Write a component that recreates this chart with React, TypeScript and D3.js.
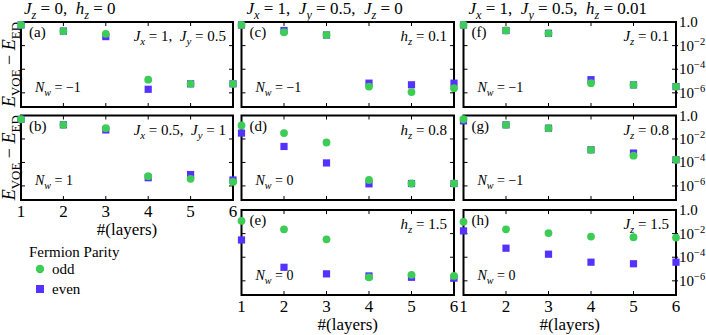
import React from "react";
import { scaleLinear, scaleLog } from "d3";

// layers on the x axis
const layers = [1, 2, 3, 4, 5, 6];
const xTicks = [1, 2, 3, 4, 5, 6];
const yTicks = [1e-2, 1e-4, 1e-6];
const yTickLabels = ["1.0", "10|−2", "10|−4", "10|−6"];

// E_VQE - E_ED, odd / even fermion parity
const aOdd = [5.6e-1, 1.7e-1, 1.0e-1, 1.3e-5, 5.8e-6, 5.8e-6];
const aEven = [5.6e-1, 1.7e-1, 5.8e-2, 2.0e-6, 5.8e-6, 5.8e-6];
const bOdd = [4.8e-1, 1.6e-1, 8.3e-2, 6.8e-6, 4.0e-6, 2.2e-6];
const bEven = [4.8e-1, 1.6e-1, 5.9e-2, 5.0e-6, 9.3e-6, 3.2e-6];
const cOdd = [5.6e-1, 1.35e-1, 7.9e-2, 3.4e-6, 1.15e-6, 2.5e-6];
const cEven = [5.6e-1, 1.9e-1, 7.9e-2, 6.6e-6, 4.8e-6, 6.6e-6];
const dOdd = [1.4e-1, 3.2e-2, 5.0e-3, 3.2e-6, 1.6e-6, 1.6e-6];
const dEven = [3.2e-2, 2.3e-3, 9.1e-5, 1.5e-6, 1.6e-6, 1.6e-6];
const eOdd = [1.2e-1, 2.3e-2, 3.3e-3, 2.0e-6, 3.2e-6, 2.6e-6];
const eEven = [2.9e-3, 1.4e-5, 3.9e-6, 2.6e-6, 2.0e-6, 1.7e-6];
const fOdd = [5.6e-1, 1.9e-1, 1.1e-1, 6.6e-6, 4.7e-6, 3.4e-6];
const fEven = [5.6e-1, 1.9e-1, 1.1e-1, 1.3e-5, 4.7e-6, 3.4e-6];
const gOdd = [4.8e-1, 1.6e-1, 8.3e-2, 1.2e-3, 3.8e-4, 1.7e-4];
const gEven = [3.5e-1, 1.6e-1, 8.3e-2, 1.2e-3, 6.3e-4, 1.7e-4];
const hOdd = [1.0e-1, 2.3e-2, 1.1e-2, 5.6e-3, 4.9e-3, 4.6e-3];
const hEven = [1.7e-2, 5.8e-4, 1.8e-4, 3.8e-5, 2.8e-5, 3.8e-5];

const columnTitles = [
  "J_z = 0,  h_z = 0",
  "J_x = 1,  J_y = 0.5,  J_z = 0",
  "J_x = 1,  J_y = 0.5,  h_z = 0.01",
];

const panels = [
  { id: "(a)", col: 0, row: 0, odd: aOdd, even: aEven, param: "J_x = 1,  J_y = 0.5", nw: "N_w = −1" },
  { id: "(b)", col: 0, row: 1, odd: bOdd, even: bEven, param: "J_x = 0.5,  J_y = 1", nw: "N_w = 1" },
  { id: "(c)", col: 1, row: 0, odd: cOdd, even: cEven, param: "h_z = 0.1", nw: "N_w = −1" },
  { id: "(d)", col: 1, row: 1, odd: dOdd, even: dEven, param: "h_z = 0.8", nw: "N_w = 0" },
  { id: "(e)", col: 1, row: 2, odd: eOdd, even: eEven, param: "h_z = 1.5", nw: "N_w = 0" },
  { id: "(f)", col: 2, row: 0, odd: fOdd, even: fEven, param: "J_z = 0.1", nw: "N_w = −1" },
  { id: "(g)", col: 2, row: 1, odd: gOdd, even: gEven, param: "J_z = 0.8", nw: "N_w = −1" },
  { id: "(h)", col: 2, row: 2, odd: hOdd, even: hEven, param: "J_z = 1.5", nw: "N_w = 0" },
];

const ODD = "#3dcc55";
const EVEN = "#5533ff";
const FONT = '"Times New Roman", Times, "Liberation Serif", "DejaVu Serif", serif';

const colX = [
  [21, 233],
  [241.5, 454],
  [463.5, 676],
];
const rowY = [
  [22, 107],
  [115.5, 200],
  [210, 295],
];

// tiny tex-ish renderer: letter_x -> italic letter with italic subscript, _{ABC} -> roman subscript
function MathText({ s, size, ...rest }: any) {
  const parts: any[] = [];
  let shifted = false;
  let i = 0;
  let key = 0;
  const push = (text: string, opts: any) => {
    let dy = 0;
    if (opts.sub && !shifted) { dy = size * 0.28; shifted = true; }
    else if (!opts.sub && shifted) { dy = -size * 0.28; shifted = false; }
    parts.push(
      <tspan key={key++} dy={dy || undefined} fontStyle={opts.italic ? "italic" : "normal"}
        fontSize={opts.sub ? size * 0.72 : size}>{text}</tspan>
    );
  };
  let buf = "";
  const flush = () => { if (buf) { push(buf, {}); buf = ""; } };
  while (i < s.length) {
    const ch = s[i];
    if (/[A-Za-z]/.test(ch)) {
      flush();
      push(ch, { italic: true });
      i++;
      if (s[i] === "_") {
        i++;
        if (s[i] === "{") {
          const end = s.indexOf("}", i);
          push(s.slice(i + 1, end), { sub: true });
          i = end + 1;
        } else {
          push(s[i], { sub: true, italic: true });
          i++;
        }
      }
    } else {
      buf += ch;
      i++;
    }
  }
  flush();
  return (
    <text fontSize={size} style={{ whiteSpace: "pre", fontFamily: FONT }} {...rest}>
      {parts}
    </text>
  );
}

function Panel({ p }: any) {
  const [x0, x1] = colX[p.col];
  const [y0, y1] = rowY[p.row];
  const x = scaleLinear().domain([1, 6]).range([x0, x1]);
  const y = scaleLog().domain([Math.pow(10, -7.2), 1]).range([y1, y0]);
  const showRight = p.col === 2;
  return (
    <g>
      {xTicks.slice(1, -1).map((t) => (
        <g key={"xt" + t}>
          <line x1={x(t)} x2={x(t)} y1={y0} y2={y0 + 4} stroke="black" strokeWidth={1} />
          <line x1={x(t)} x2={x(t)} y1={y1} y2={y1 - 4} stroke="black" strokeWidth={1} />
        </g>
      ))}
      {yTicks.map((t) => (
        <g key={"yt" + t}>
          <line x1={x0} x2={x0 + 4} y1={y(t)} y2={y(t)} stroke="black" strokeWidth={1} />
          <line x1={x1 - 4} x2={x1 + (showRight ? 2 : 0)} y1={y(t)} y2={y(t)} stroke="black" strokeWidth={1} />
        </g>
      ))}
      <rect x={x0} y={y0} width={x1 - x0} height={y1 - y0} fill="none" stroke="black" strokeWidth={2} />
      {showRight &&
        [1, ...yTicks].map((t, i) => {
          const [base, exp] = yTickLabels[i].split("|");
          return (
            <text key={"yl" + t} x={x1 + 3} y={y(t) + 5} style={{ fontFamily: FONT }} fontSize={15}>
              {base}
              {exp && (
                <tspan dy={-6} fontSize={10.5}>
                  {exp}
                </tspan>
              )}
            </text>
          );
        })}
      {layers.map((l, i) => (
        <rect key={"e" + l} x={x(l) - 3.6} y={y(p.even[i]) - 3.6} width={7.2} height={7.2} fill={EVEN} />
      ))}
      {layers.map((l, i) => (
        <circle key={"o" + l} cx={x(l)} cy={y(p.odd[i])} r={3.9} fill={ODD} />
      ))}
      <text x={x0 + 8} y={y0 + 15} style={{ fontFamily: FONT }} fontSize={15}>
        {p.id}
      </text>
      <MathText s={p.param} size={15} x={x1 - 7} y={y0 + 19} textAnchor="end" />
      <MathText s={p.nw} size={14} x={x0 + 14} y={y1 - 15} />
    </g>
  );
}

function XAxisLabels({ col, row, labelY }: any) {
  const [x0, x1] = colX[col];
  const y1 = rowY[row][1];
  const x = scaleLinear().domain([1, 6]).range([x0, x1]);
  return (
    <g style={{ fontFamily: FONT }}>
      {xTicks.map((t) => (
        <text key={t} x={x(t)} y={y1 + 17} textAnchor="middle" fontSize={17}>
          {t}
        </text>
      ))}
      <text x={(x0 + x1) / 2} y={labelY} textAnchor="middle" fontSize={17}>
        #(layers)
      </text>
    </g>
  );
}

export default function App() {
  return (
    <svg width={706} height={335} style={{ position: "absolute", left: 0, top: 0, background: "white" }}>
      {columnTitles.map((t, i) => (
        <MathText key={t} s={t} size={17} x={colX[i][0] + (i === 0 ? 3 : 5)} y={14} />
      ))}
      {[0, 1].map((r) => (
        <MathText
          key={"yl" + r}
          s="E_{VQE} − E_{ED}"
          size={18}
          textAnchor="middle"
          transform={`translate(15,${(rowY[r][0] + rowY[r][1]) / 2}) rotate(-90)`}
        />
      ))}
      {panels.map((p) => (
        <Panel key={p.id} p={p} />
      ))}
      <XAxisLabels col={0} row={1} labelY={235} />
      <XAxisLabels col={1} row={2} labelY={330} />
      <XAxisLabels col={2} row={2} labelY={330} />
      <g style={{ fontFamily: FONT }} fontSize={15}>
        <text x={29} y={257}>Fermion Parity</text>
        <circle cx={40} cy={269} r={4.2} fill={ODD} />
        <text x={52} y={274}>odd</text>
        <rect x={36} y={285} width={8} height={8} fill={EVEN} />
        <text x={52} y={294}>even</text>
      </g>
    </svg>
  );
}
